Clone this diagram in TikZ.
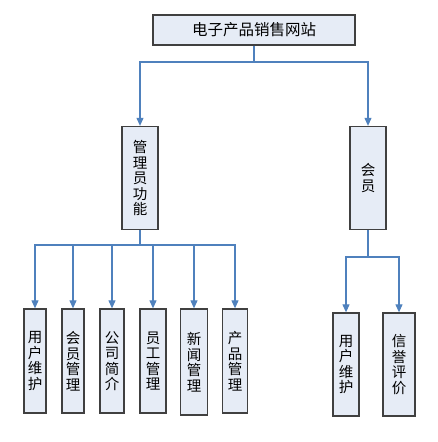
\documentclass[tikz,border=0pt]{standalone}
\usepackage{fontspec}
\newfontfamily\cjk{Noto Sans CJK SC}
\usetikzlibrary{arrows.meta}
\definecolor{linkblue}{RGB}{79,129,189}
\definecolor{boxfill}{RGB}{230,236,246}
\definecolor{boxline}{RGB}{64,64,64}
\tikzset{
    box/.style={draw=boxline, fill=boxfill, line width=1.3pt, inner sep=0pt,
        align=center, font=\cjk\fontsize{14.5}{15.5}\selectfont},
    link/.style={draw=linkblue, line width=1.1pt,
        -{Triangle[length=8pt,width=7pt]}}
}
\begin{document}
\begin{tikzpicture}[x=1pt, y=-1pt]
    \useasboundingbox (0,0) rectangle (438,442);

    % Site and its two parts
	\node[box, minimum width=202pt, minimum height=30pt,
        font=\cjk\fontsize{15.5}{18}\selectfont] (site) at (254,30) {电子产品销售网站};
	\node[box, minimum width=36pt, minimum height=103pt] (admin) at (140,178) {管\\理\\员\\功\\能};
	\node[box, minimum width=36pt, minimum height=103pt] (member) at (368,178) {会\\员};

    % Admin functions
	\node[box, minimum width=22pt, minimum height=104pt] (users) at (35,361) {用\\户\\维\\护};
	\node[box, minimum width=22pt, minimum height=104pt] (members) at (73,361) {会\\员\\管\\理};
	\node[box, minimum width=24pt, minimum height=104pt] (intro) at (112,361) {公\\司\\简\\介};
	\node[box, minimum width=26pt, minimum height=104pt] (staff) at (153,361) {员\\工\\管\\理};
	\node[box, minimum width=27pt, minimum height=106pt] (news) at (194,362) {新\\闻\\管\\理};
	\node[box, minimum width=25pt, minimum height=104pt] (goods) at (235,361) {产\\品\\管\\理};

    % Member functions
	\node[box, minimum width=26pt, minimum height=103pt] (muser) at (346,364.5) {用\\户\\维\\护};
	\node[box, minimum width=32pt, minimum height=103pt] (credit) at (399,364.5) {信\\誉\\评\\价};

    % Links from the site
	\coordinate (split) at (254,62);
	\draw[linkblue, line width=1.1pt] (site.south) -- (split);
	\draw[link] (split) -| (admin.north);
	\draw[link] (split) -| (member.north);

    % Links from the admin box
	\coordinate (asplit) at (140,245);
	\draw[linkblue, line width=1.1pt] (admin.south) -- (asplit);
	\foreach \n in {users, members, intro, staff, news, goods}
	    \draw[link] (asplit) -| (\n.north);

    % Links from the member box
	\coordinate (msplit) at (368,257);
	\draw[linkblue, line width=1.1pt] (member.south) -- (msplit);
	\draw[link] (msplit) -| (muser.north);
	\draw[link] (msplit) -| (credit.north);

\end{tikzpicture}
\end{document}
